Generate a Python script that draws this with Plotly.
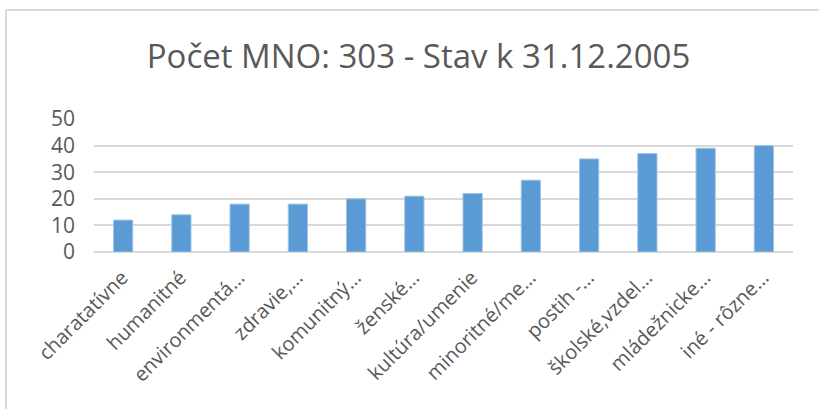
import plotly.graph_objects as go

categories = ["charatatívne", "humanitné", "environmentá…", "zdravie,…", "komunitný…",
              "ženské…", "kultúra/umenie", "minoritné/me…", "postih -…",
              "školské,vzdel…", "mládežnicke…", "iné - rôzne…"]
values = [12, 14, 18, 18, 20, 21, 22, 27, 35, 37, 39, 40]
y_ticks = [0, 10, 20, 30, 40, 50]
title_text = "Počet MNO: 303 - Stav k 31.12.2005"

W, H = 819, 409
L, R, T, B = 94, 26, 119, 157
pw, ph = W - L - R, H - T - B

def px(p):
    return (p - L) / pw

def py(q):
    return (H - B - q) / ph

fig = go.Figure(go.Bar(
    x=categories, y=values,
    marker=dict(color="#5B9BD5", line=dict(color="#9DC3E6", width=1)),
    hoverinfo="skip",
))

fig.update_layout(
    width=W, height=H,
    margin=dict(l=L, r=R, t=T, b=B, autoexpand=False),
    paper_bgcolor="white", plot_bgcolor="white",
    bargap=0.67,
    showlegend=False,
    font=dict(family="Open Sans, sans-serif", color="#595959"),
    title=dict(text=title_text, x=0.511, xanchor="center", y=1 - 56 / H, yanchor="middle",
               font=dict(size=33, color="#595959")),
    shapes=[
        dict(type="line", xref="paper", yref="paper", x0=px(6), x1=px(6), y0=py(10), y1=py(420),
             line=dict(color="#D9D9D9", width=2)),
        dict(type="line", xref="paper", yref="paper", x0=px(6), x1=px(830), y0=py(10), y1=py(10),
             line=dict(color="#D9D9D9", width=2)),
    ],
)
fig.update_xaxes(tickangle=-45, tickfont=dict(size=20, color="#595959"), showgrid=False,
                 showline=False, ticks="", ticklabelstandoff=9, ticklabelshift=-1)
fig.update_yaxes(range=[0, 50], tickvals=y_ticks, tickfont=dict(size=21, color="#595959"),
                 gridcolor="#D9D9D9", gridwidth=1.5, zeroline=True, zerolinecolor="#D9D9D9",
                 zerolinewidth=1.5, showline=False, ticks="", ticklabelstandoff=18)

fig.write_html("out.html", config={"displayModeBar": False},
               post_script="document.body.style.margin='0';")
